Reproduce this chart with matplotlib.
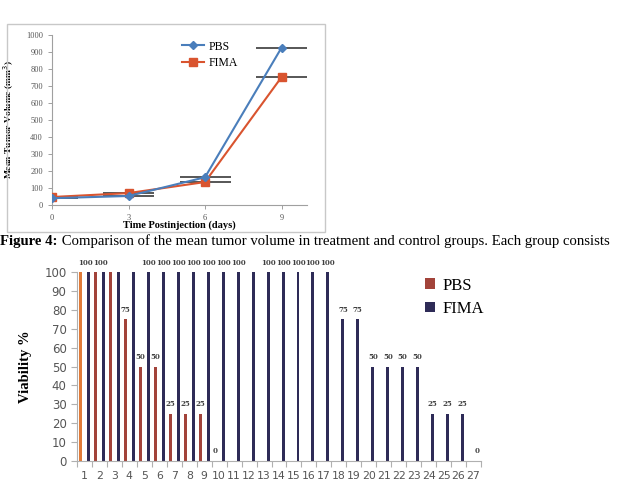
import numpy as np
import matplotlib
matplotlib.use("Agg")
import matplotlib.pyplot as plt
from matplotlib.patches import Rectangle

# top chart data
days = [0, 3, 6, 9]
pbs_volume = [40, 53, 163, 925]
fima_volume = [47, 70, 135, 752]
day_err = [1, 1, 1, 1]

# bottom chart data
categories = list(range(1, 28))
pbs_viability = [100, 100, 100, 75, 50, 50, 25, 25, 25, 0]
fima_viability = [100] * 17 + [75, 75, 50, 50, 50, 50, 25, 25, 25, 0]
# the 100-labels that are visible in the original (others overlap)
fima_top_labels = [1, 2, 5, 6, 7, 8, 9, 10, 11, 13, 14, 15, 16, 17]

caption_bold = "Figure 4:"
caption_rest = " Comparison of the mean tumor volume in treatment and control groups. Each group consists"

W, H = 617, 504
fig = plt.figure(figsize=(W / 100, H / 100), dpi=100)
fig.patch.set_facecolor("white")

def fx(px):
    return px / W

def fy(py):
    return 1 - py / H

serif = "Liberation Serif"

# frame around top chart
fig.patches.append(Rectangle((fx(7), fy(232)), fx(318), 208 / H, transform=fig.transFigure,
                             fill=False, edgecolor="#c8c8c8", linewidth=1.0))

## Top chart
ax1 = fig.add_axes([fx(52), fy(205), fx(255), 170 / H])
ax1.errorbar(days, pbs_volume, xerr=day_err, fmt="none", ecolor="#3a3a3a", elinewidth=1.2, capsize=0, zorder=2)
ax1.errorbar(days, fima_volume, xerr=day_err, fmt="none", ecolor="#3a3a3a", elinewidth=1.2, capsize=0, zorder=2)
ax1.plot(days, pbs_volume, color="#4a7ebb", linewidth=1.5, marker="D", markersize=4, label="PBS", zorder=4)
ax1.plot(days, fima_volume, color="#d9542f", linewidth=1.5, marker="s", markersize=6, label="FIMA", zorder=3)
ax1.set_xlim(0, 10)
ax1.set_ylim(0, 1000)
ax1.set_xticks(days)
ax1.set_yticks(np.arange(0, 1001, 100))
for s in ["top", "right"]:
    ax1.spines[s].set_visible(False)
for s in ["left", "bottom"]:
    ax1.spines[s].set_color("#a0a0a0")
    ax1.spines[s].set_linewidth(0.8)
ax1.tick_params(axis="both", labelsize=6, colors="#a0a0a0", labelcolor="#555555", length=3, width=0.7)
for lab in ax1.get_xticklabels() + ax1.get_yticklabels():
    lab.set_family(serif)
ax1.set_xlabel("Time Postinjection (days)", fontsize=7.5, fontweight="bold", family=serif, labelpad=-1)
ax1.set_ylabel("Mean Tumor Volume (mm$^3$)", fontsize=6.8, fontweight="bold", family=serif, labelpad=7)
ax1.legend(loc="upper left", bbox_to_anchor=(0.47, 1.03), frameon=False, prop={"family": serif, "size": 8.5},
           handlelength=1.8, handletextpad=0.4, labelspacing=0.35)

## Caption
t1 = fig.text(0.0, fy(241), caption_bold, fontsize=10.6, fontweight="bold", family=serif, va="center", ha="left")
fig.canvas.draw()
bb = t1.get_window_extent()
fig.text(bb.x1 / W, fy(241), caption_rest, fontsize=10.6, family=serif, va="center", ha="left")

## Bottom chart
ax2 = fig.add_axes([fx(77), fy(461), fx(404), 189 / H])
x = np.array(categories, dtype=float)
bw = 0.2
pbs_x = x[:len(pbs_viability)] - 0.27
fima_x = x + 0.27
pbs_colors = ["#e07b39"] + ["#a2433a"] * (len(pbs_viability) - 1)
ax2.bar(pbs_x, pbs_viability, width=bw, color=pbs_colors, label="PBS")
ax2.bar(fima_x, fima_viability, width=bw, color="#2e2b57", label="FIMA")

lab_kw = dict(ha="center", va="bottom", fontsize=5, fontweight="bold", color="#404040", clip_on=False, family="DejaVu Serif")
for xi, v in zip(pbs_x, pbs_viability):
    if v < 100:
        ax2.text(xi, v + 3, str(v), **lab_kw)
for c, xi, v in zip(categories, fima_x, fima_viability):
    if v < 100:
        ax2.text(xi, v + 3, str(v), **lab_kw)
    elif c in fima_top_labels:
        off = 0.0 if c > 2 else -0.2
        ax2.text(xi + off, v + 2.5, str(v), **lab_kw)

ax2.set_xlim(0.5, 27.5)
ax2.set_ylim(0, 100)
ax2.set_yticks(np.arange(0, 101, 10))
ax2.set_xticks(categories)
ax2.set_xticks(np.arange(0.5, 28, 1), minor=True)
ax2.tick_params(axis="x", which="major", length=0, labelsize=7.8, labelcolor="#555555", pad=7)
ax2.tick_params(axis="x", which="minor", length=4, color="#b0b0b0", width=0.8)
ax2.tick_params(axis="y", labelsize=8.5, labelcolor="#555555", length=4, color="#b0b0b0", width=0.8)
for s in ["top", "right"]:
    ax2.spines[s].set_visible(False)
for s in ["left", "bottom"]:
    ax2.spines[s].set_color("#b0b0b0")
    ax2.spines[s].set_linewidth(0.8)
ax2.set_ylabel("Viability %", fontsize=10.5, fontweight="bold", family=serif, labelpad=9)

leg = ax2.legend(loc="upper left", bbox_to_anchor=(fx(410 - 77) / fx(404), 1.05), frameon=False,
                 prop={"family": serif, "size": 12}, handlelength=0.6, handleheight=0.6,
                 handletextpad=0.45, labelspacing=0.45)
leg.legend_handles[0].set_facecolor("#a2433a")

fig.savefig("out.png", dpi=100, facecolor="white")
